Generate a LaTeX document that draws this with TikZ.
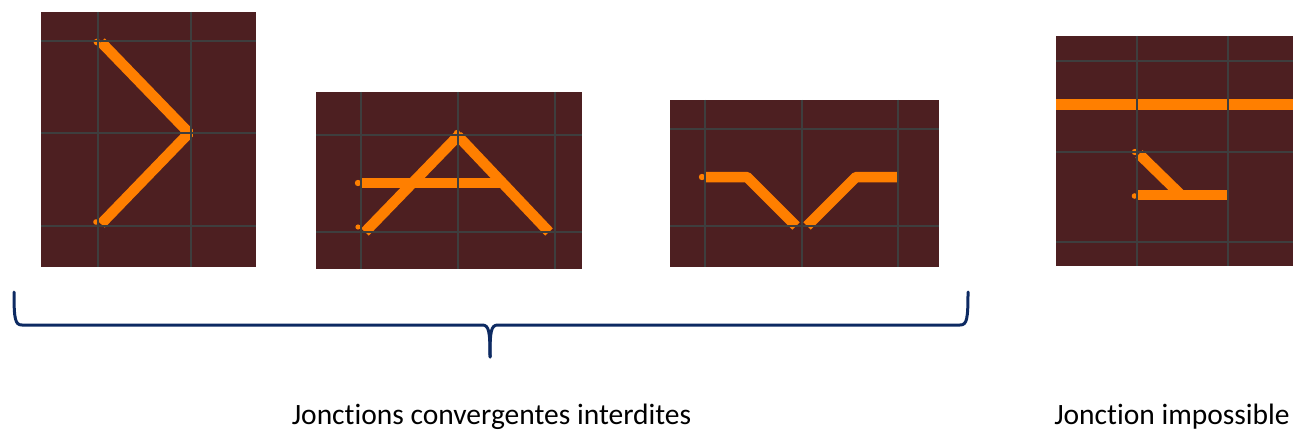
\documentclass[tikz,border=0pt]{standalone}
\usepackage{fontspec}
\setmainfont{Carlito}[Ligatures=NoCommon]
\definecolor{boardbg}{HTML}{4D1F21}
\definecolor{gridgray}{HTML}{3E3E3E}
\definecolor{traceor}{HTML}{FF7F00}
\definecolor{bracenavy}{HTML}{0D2A62}

\begin{document}
\begin{tikzpicture}[x=1pt,y=-1pt,board/.style={fill=boardbg},gridline/.style={draw=gridgray,line width=2pt},trace/.style={draw=traceor,line width=10.5pt,line join=bevel},stub/.style={fill=traceor},brace/.style={draw=bracenavy,line width=3pt,line cap=round},caption/.style={font=\fontsize{29.5}{35}\selectfont,anchor=base,inner sep=0pt}]
\useasboundingbox (0,0) rectangle (1293,433);
% converging junction, two legs
\fill[board] (41,12) rectangle (256,267);
\fill[stub] (97,42) circle (3.4); \fill[stub] (96,222) circle (2.8);
\draw[trace] (101,42)--(189,133)--(101,224);
\foreach \x in {98,191} \draw[gridline] (\x,12)--(\x,267);
\foreach \y in {41,133,226} \draw[gridline] (41,\y)--(256,\y);
% converging junction, letter A
\fill[board] (316,92) rectangle (582,269);
\fill[stub] (358,183) circle (3.2); \fill[stub] (358,227) circle (2.6); \fill[stub] (457,133) circle (3.2);
\draw[trace] (365,232)--(458,136)--(549,232);
\draw[trace] (361,183)--(504,183);
\foreach \x in {361,458,555} \draw[gridline] (\x,92)--(\x,269);
\foreach \y in {135,232} \draw[gridline] (316,\y)--(582,\y);
% converging junction, V
\fill[board] (670,100) rectangle (939,267);
\fill[stub] (702,177) circle (3.2);
\draw[trace] (705,177)--(747,177)--(796,226);
\draw[trace] (807,226)--(856,177)--(898,177);
\foreach \x in {705,802,898} \draw[gridline] (\x,100)--(\x,267);
\foreach \y in {129,226} \draw[gridline] (670,\y)--(939,\y);
% impossible junction
\fill[board] (1056,36) rectangle (1293,266);
\fill[stub] (1135,152) circle (3.2); \fill[stub] (1134.5,196) circle (2.8);
\draw[trace] (1056,104.5)--(1293,104.5);
\draw[trace] (1139,154)--(1181,195);
\draw[trace] (1137,195)--(1227,195);
\foreach \x in {1137,1228} \draw[gridline] (\x,36)--(\x,266);
\foreach \y in {61,152,242} \draw[gridline] (1056,\y)--(1293,\y);
% brace over the three forbidden cases
\coordinate (braceL) at (14,292); \coordinate (braceR) at (968,292); \coordinate (braceTip) at (490,357);
\draw[brace] (braceL) .. controls (14,319) and (15,325) .. (22,325) -- (482,325) .. controls (489,325) and (490,331) .. (braceTip);
\draw[brace] (braceR) .. controls (968,319) and (967,325) .. (960,325) -- (498,325) .. controls (491,325) and (490,331) .. (braceTip);
\node[caption] (forbidden) at (491.5,424) {Jonctions convergentes interdites};
\node[caption] (impossible) at (1172,424) {Jonction impossible};
\end{tikzpicture}
\end{document}
